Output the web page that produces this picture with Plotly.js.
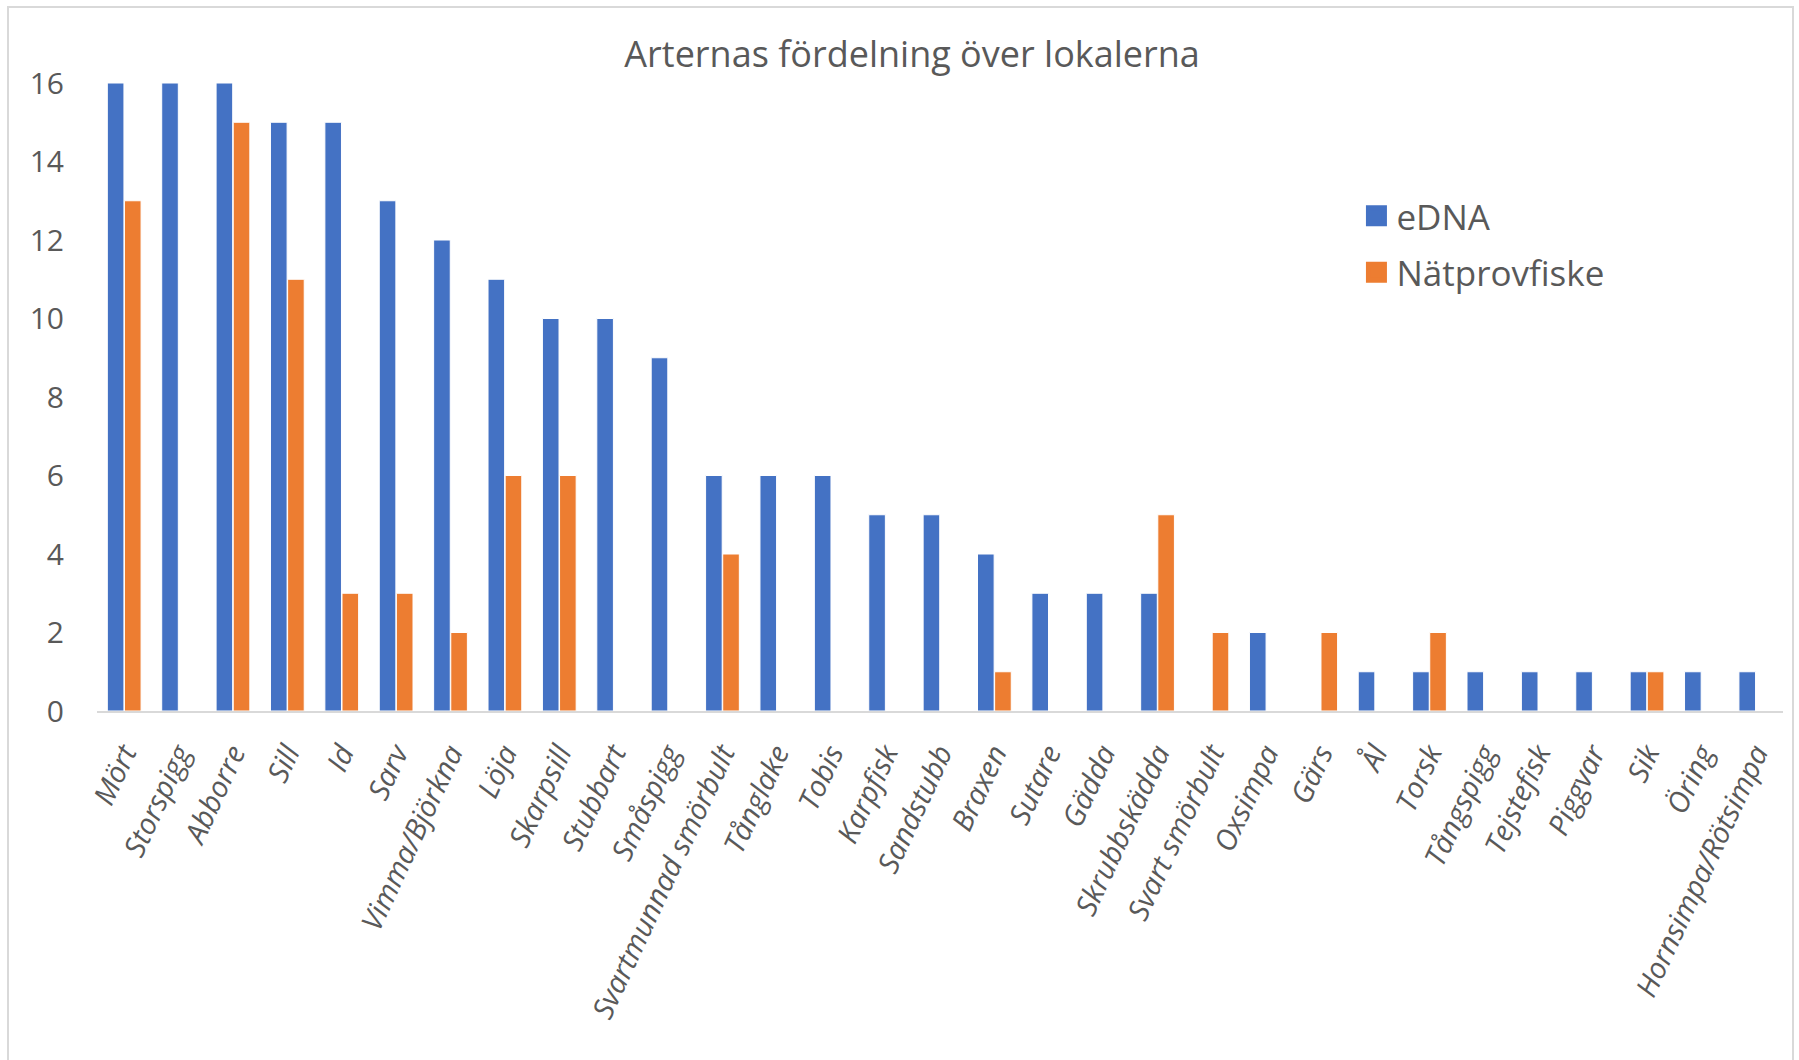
<!DOCTYPE html>
<html>
<head>
<meta charset="utf-8">
<script src="https://cdn.plot.ly/plotly-3.0.1.min.js"></script>
<style>
  html, body { margin: 0; padding: 0; background: #fff; }
  #wrap { position: relative; width: 1799px; height: 1060px; overflow: hidden; }
  #frame { position: absolute; left: 7px; top: 6px; width: 1787px; height: 1100px; border: 2px solid #d9d9d9; box-sizing: border-box; pointer-events: none; }
  #chart { position: absolute; left: 0; top: 0; width: 1799px; height: 1060px; }
</style>
</head>
<body>
<div id="wrap">
  <div id="chart"></div>
  <div id="frame"></div>
</div>
<script>
const categories = ["Mört","Storspigg","Abborre","Sill","Id","Sarv","Vimma/Björkna","Löja","Skarpsill","Stubbart","Småspigg","Svartmunnad smörbult","Tånglake","Tobis","Karpfisk","Sandstubb","Braxen","Sutare","Gädda","Skrubbskädda","Svart smörbult","Oxsimpa","Gärs","Ål","Torsk","Tångspigg","Tejstefisk","Piggvar","Sik","Öring","Hornsimpa/Rötsimpa"];
const eDNA =        [16,16,16,15,15,13,12,11,10,10,9,6,6,6,5,5,4,3,3,3,0,2,0,1,1,1,1,1,1,1,1];
const natprovfiske = [13,0,15,11,3,3,2,6,6,0,0,4,0,0,0,0,1,0,0,5,2,0,2,0,2,0,0,0,1,0,0];
const seriesNames = ["eDNA", "Nätprovfiske"];
const seriesColors = ["#4472C4", "#ED7D31"];
const yTicks = [0,2,4,6,8,10,12,14,16];
const chartTitle = "Arternas fördelning över lokalerna";

const fontFam = "'Open Sans', 'Noto Sans', sans-serif";
const grey = "#595959";

const traces = [
  { type: "bar", name: seriesNames[0], x: categories, y: eDNA,
    marker: { color: seriesColors[0], line: { color: "#ffffff", width: 1 } },
    showlegend: false, hoverinfo: "x+y+name" },
  { type: "bar", name: seriesNames[1], x: categories, y: natprovfiske,
    marker: { color: seriesColors[1], line: { color: "#ffffff", width: 1 } },
    showlegend: false, hoverinfo: "x+y+name" },
  // legend entries with larger square keys
  { type: "scatter", mode: "markers", name: seriesNames[0], x: [null], y: [null],
    marker: { symbol: "square", size: 16, color: seriesColors[0], line: { color: seriesColors[0], width: 5 } }, legendgroup: "a" },
  { type: "scatter", mode: "markers", name: seriesNames[1], x: [null], y: [null],
    marker: { symbol: "square", size: 16, color: seriesColors[1], line: { color: seriesColors[1], width: 5 } }, legendgroup: "b" }
];

const layout = {
  width: 1799, height: 1060,
  paper_bgcolor: "rgba(0,0,0,0)", plot_bgcolor: "#ffffff",
  margin: { l: 97, r: 16, t: 83, b: 349 },
  barmode: "group", bargap: 0.37, bargroupgap: 0.03,
  showlegend: true,
  title: { text: chartTitle, x: 0.507, xref: "container", xanchor: "center",
           y: 1 - 54/1060, yref: "container", yanchor: "middle",
           font: { family: fontFam, size: 36, color: grey } },
  legend: { x: 0.747, xref: "paper", xanchor: "left", y: 0.835, yref: "paper", yanchor: "top",
            font: { family: fontFam, size: 35, color: grey }, bgcolor: "rgba(0,0,0,0)",
            traceorder: "grouped", tracegroupgap: 8, itemwidth: 30 },
  xaxis: { type: "category", tickangle: -65, showgrid: false, showline: true, linecolor: "#d9d9d9", linewidth: 2,
           ticks: "", tickfont: { family: fontFam, size: 29, color: grey, style: "italic" },
           ticklabelstandoff: 12, automargin: false, fixedrange: true },
  yaxis: { range: [0, 16], tickvals: yTicks, showgrid: false, zeroline: false, showline: false, ticks: "",
           tickfont: { family: fontFam, size: 30, color: grey }, ticklabelstandoff: 32,
           automargin: false, fixedrange: true }
};

Plotly.newPlot("chart", traces, layout, { displayModeBar: false, staticPlot: true });
</script>
</body>
</html>
